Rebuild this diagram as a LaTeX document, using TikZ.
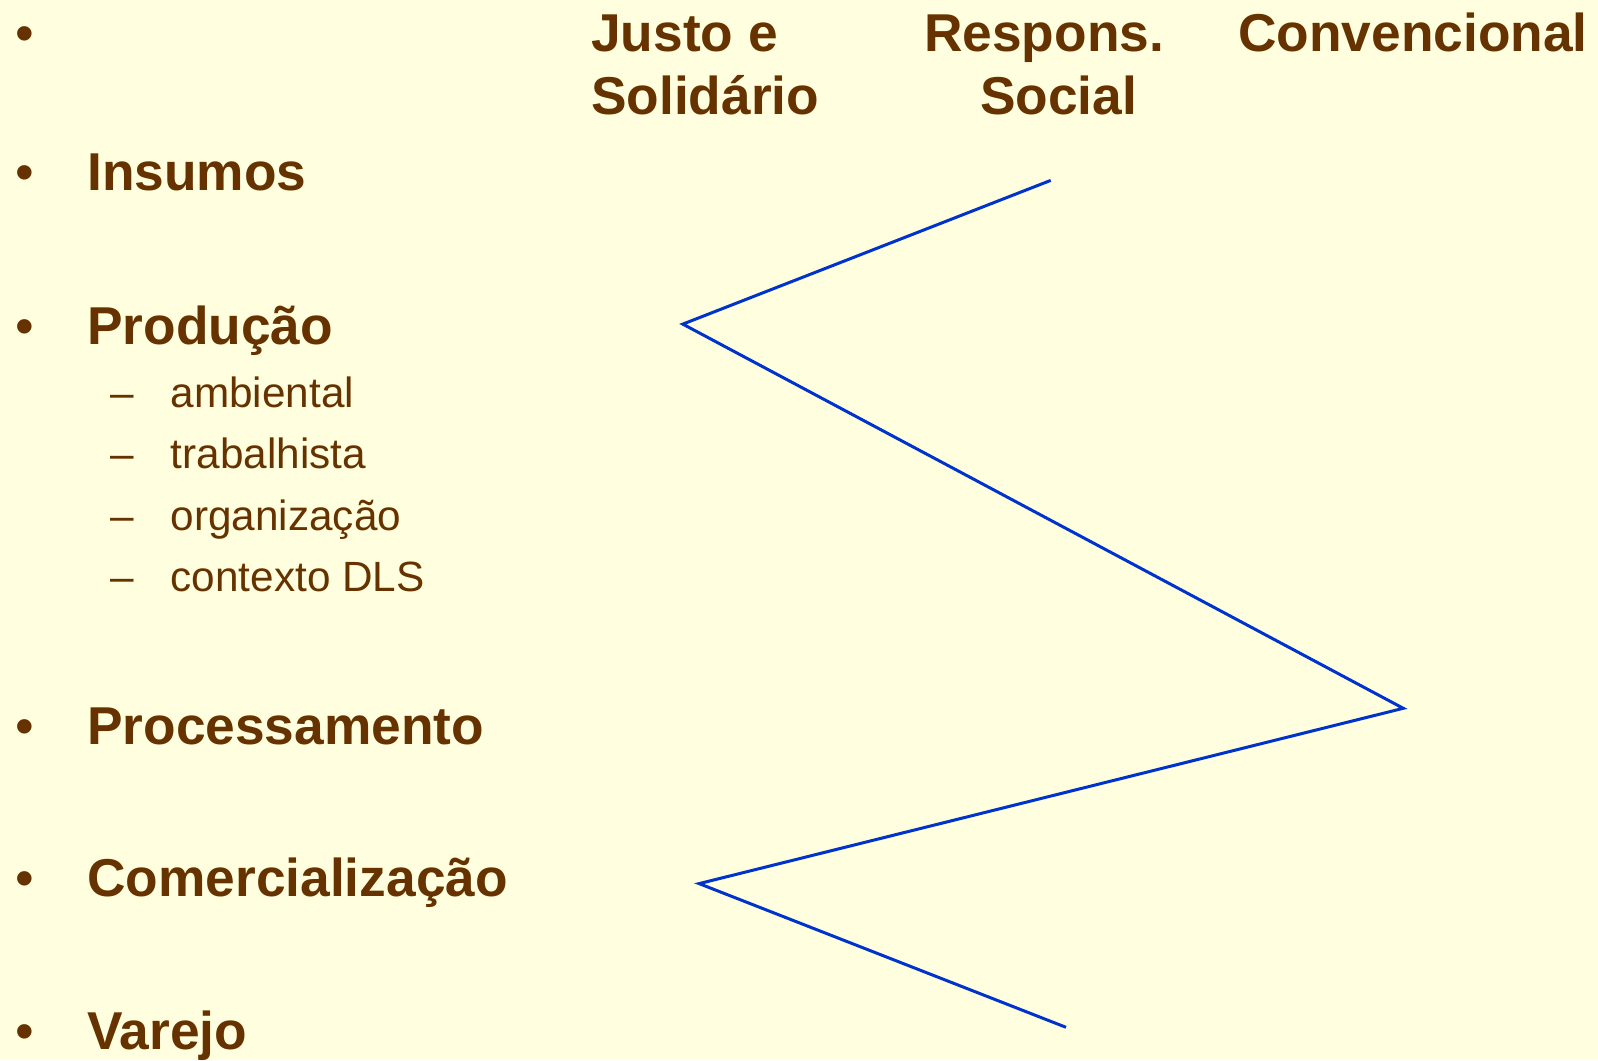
\documentclass[tikz,border=0pt]{standalone}
\usepackage{fontspec}
\setmainfont{Liberation Sans}
\usepackage{xcolor}
\usetikzlibrary{positioning}
\definecolor{bgyellow}{HTML}{FFFFE0}
\definecolor{txtbrown}{HTML}{663300}
\definecolor{lineblue}{HTML}{0033CC}

\begin{document}
\begin{tikzpicture}[x=1pt, y=-1pt]
        \tikzstyle{item} = [anchor=base west, inner sep=0pt, text=txtbrown,
            font=\fontsize{53.3}{64}\selectfont\bfseries]
        \tikzstyle{bullet} = [anchor=base, inner sep=0pt, text=txtbrown,
            font=\fontsize{53.3}{64}\selectfont]
        \tikzstyle{subitem} = [anchor=base west, inner sep=0pt, text=txtbrown,
            font=\fontsize{42.3}{51}\selectfont]
        \tikzstyle{line} = [draw=lineblue, line width=3pt, line join=miter]

        % background
        \fill [bgyellow] (0,0) rectangle (1598,1060);
        \useasboundingbox (0,0) rectangle (1598,1060);

        % column headers
        \node [bullet] (b0) at (25,51) {•};
        \node [item] (justo) at (591,51) {Justo e};
        \node [item] (solid) at (591,114) {Solidário};
        \node [item] (respons) at (924,51) {Respons.};
        \node [item] (social) at (980,114) {Social};
        \node [item] (conv) at (1238,51) {Convencional};

        % chain stages
        \node [bullet] (b1) at (25,190.6) {•};
        \node [item] (insumos) at (87,190.6) {Insumos};
        \node [bullet] (b2) at (25,344.5) {•};
        \node [item] (producao) at (87,344.5) {Produção};
        \node [subitem] (d1) at (110.5,407.6) {–};
        \node [subitem] (ambiental) at (170.5,407.6) {ambiental};
        \node [subitem] (d2) at (110.5,468.8) {–};
        \node [subitem] (trabalhista) at (170.5,468.8) {trabalhista};
        \node [subitem] (d3) at (110.5,530) {–};
        \node [subitem] (organizacao) at (170.5,530) {organização};
        \node [subitem] (d4) at (110.5,591) {–};
        \node [subitem] (contexto) at (170.5,591) {contexto DLS};
        \node [bullet] (b3) at (25,744) {•};
        \node [item] (processamento) at (87,744) {Processamento};
        \node [bullet] (b4) at (25,896.8) {•};
        \node [item] (comercial) at (87,896.8) {Comercialização};
        \node [bullet] (b5) at (25,1049.7) {•};
        \node [item] (varejo) at (87,1049.7) {Varejo};

        % profile points
        \coordinate (p-ins) at (1050.7,180.4);
        \coordinate (p-prod) at (682.8,324.1);
        \coordinate (p-proc) at (1403.3,708.3);
        \coordinate (p-com) at (699.1,883.6);
        \coordinate (p-var) at (1066,1027.3);

        \path [line] (p-ins) -- (p-prod) -- (p-proc) -- (p-com) -- (p-var);
      \end{tikzpicture}
\end{document}
